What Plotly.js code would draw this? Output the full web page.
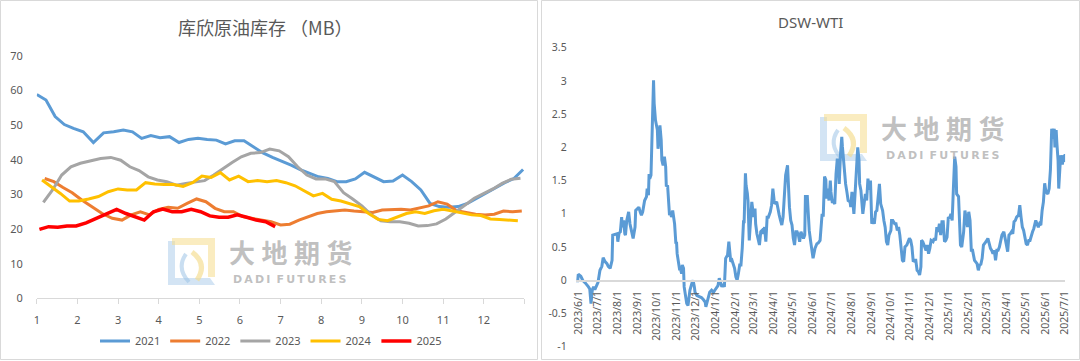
<!DOCTYPE html>
<html><head><meta charset="utf-8">
<script src="https://cdn.plot.ly/plotly-3.0.1.min.js"></script>
<style>html,body{margin:0;padding:0;background:#fff;} #chart{width:1080px;height:361px;}</style>
</head><body><div id="chart"></div>
<script>
// ---------------- DATA ----------------
// Left chart: Cushing crude stocks (MB), weekly, by year
const years = ['2021', '2022', '2023', '2024', '2025'];
const firstReport = ['2021-01-01', '2022-01-07', '2023-01-06', '2024-01-05', '2025-01-03'];
const stocks2021 = [58.9,57.3,52.5,50.2,49.1,48.1,45.0,47.8,48.1,48.6,48.1,46.2,47.0,46.4,46.7,45.0,45.9,46.2,45.9,45.7,44.6,45.5,45.5,43.8,42.0,40.7,39.7,38.5,37.2,36.1,35.1,34.6,33.7,33.7,34.5,36.4,35.1,33.7,33.9,35.6,33.7,31.3,27.4,26.5,26.3,26.5,27.4,28.9,30.5,32.0,33.4,34.6,37.2];
const stocks2022 = [34.6,33.7,32.0,30.5,28.4,26.5,24.5,23.1,22.6,24.1,25.0,24.1,25.7,26.3,26.0,27.4,28.7,27.9,26.0,25.0,25.0,23.6,23.1,22.6,22.1,21.2,21.4,22.6,23.6,24.5,25.0,25.3,25.5,25.2,25.0,24.8,25.5,25.7,25.7,25.5,26.0,26.7,27.9,27.2,25.3,24.8,24.3,24.1,24.3,25.2,25.0,25.2];
const stocks2023 = [27.7,31.3,35.6,38.0,39.0,39.7,40.4,40.7,39.9,38.0,36.9,35.1,34.2,33.7,32.7,33.2,33.5,34.0,35.6,37.5,39.2,40.9,41.9,42.1,43.1,42.6,40.9,38.0,35.6,34.5,34.5,33.7,30.5,28.7,26.7,24.1,22.4,22.1,22.1,21.7,20.9,21.0,21.5,22.9,25.0,26.9,28.9,30.3,31.6,33.2,34.4,34.7];
const stocks2024 = [34.2,32.3,30.3,28.1,28.1,28.7,29.4,30.8,31.6,31.3,31.3,33.4,33.0,32.9,32.9,32.3,33.4,35.3,34.9,36.3,34.2,35.3,33.7,34.0,33.7,34.0,33.4,32.5,31.1,29.6,30.3,28.6,28.1,27.4,26.5,24.5,22.8,22.4,23.4,24.5,25.0,24.5,25.3,25.7,25.2,24.7,24.1,23.9,22.9,22.8,22.6,22.4];
const stocks2025 = [19.9,20.7,20.5,20.9,20.9,21.8,23.1,24.4,25.7,24.5,23.6,22.6,25.0,25.8,25.0,25.0,25.7,25.0,23.8,23.4,23.4,24.1,23.4,22.6,22.1,20.7];
const monthTicks = ['1','2','3','4','5','6','7','8','9','10','11','12'];
const stockTicks = [0,10,20,30,40,50,60,70];

// Right chart: DSW-WTI spread
const dswDates = [
'2023-05-30','2023-05-31','2023-06-04','2023-06-07','2023-06-11','2023-06-13','2023-06-16','2023-06-18','2023-06-20','2023-06-22','2023-06-24','2023-06-26','2023-06-29',
'2023-07-01','2023-07-04','2023-07-07','2023-07-09','2023-07-12','2023-07-15','2023-07-17','2023-07-20','2023-07-23','2023-07-24','2023-07-28','2023-07-31',
'2023-08-01','2023-08-03','2023-08-05','2023-08-07','2023-08-08','2023-08-10','2023-08-12','2023-08-13','2023-08-15','2023-08-18','2023-08-20','2023-08-22','2023-08-25','2023-08-28','2023-08-29',
'2023-09-01','2023-09-03','2023-09-05','2023-09-07','2023-09-09','2023-09-12','2023-09-15','2023-09-16','2023-09-18','2023-09-19','2023-09-20','2023-09-22','2023-09-24','2023-09-26','2023-09-27','2023-09-29',
'2023-10-02','2023-10-03','2023-10-05','2023-10-06','2023-10-08','2023-10-09','2023-10-11','2023-10-13','2023-10-15','2023-10-16','2023-10-18','2023-10-19','2023-10-21','2023-10-23','2023-10-24','2023-10-26','2023-10-28','2023-10-29','2023-10-31',
'2023-11-01','2023-11-02','2023-11-04','2023-11-06','2023-11-07','2023-11-09','2023-11-10','2023-11-12','2023-11-13','2023-11-15','2023-11-17','2023-11-19','2023-11-22','2023-11-25','2023-11-27','2023-11-29','2023-11-30',
'2023-12-03','2023-12-05','2023-12-08','2023-12-10','2023-12-13','2023-12-16','2023-12-17','2023-12-21','2023-12-23','2023-12-26','2023-12-29','2023-12-31',
'2024-01-03','2024-01-05','2024-01-07','2024-01-09','2024-01-11','2024-01-13','2024-01-15','2024-01-17','2024-01-20','2024-01-22','2024-01-23','2024-01-25','2024-01-27','2024-01-29','2024-01-31',
'2024-02-02','2024-02-04','2024-02-06','2024-02-08','2024-02-10','2024-02-12','2024-02-14','2024-02-15','2024-02-17','2024-02-18','2024-02-20','2024-02-21','2024-02-23','2024-02-25','2024-02-27','2024-02-28',
'2024-03-01','2024-03-03','2024-03-04','2024-03-06','2024-03-08','2024-03-10','2024-03-12','2024-03-14','2024-03-16','2024-03-18','2024-03-20','2024-03-22','2024-03-24','2024-03-27','2024-03-29','2024-03-31',
'2024-04-02','2024-04-03','2024-04-06','2024-04-08','2024-04-10','2024-04-12','2024-04-14','2024-04-16','2024-04-18','2024-04-20','2024-04-23','2024-04-24','2024-04-26','2024-04-28','2024-04-30',
'2024-05-02','2024-05-04','2024-05-06','2024-05-08','2024-05-10','2024-05-12','2024-05-14','2024-05-16','2024-05-18','2024-05-20','2024-05-21','2024-05-24','2024-05-26','2024-05-27','2024-05-29','2024-05-31',
'2024-06-02','2024-06-05','2024-06-08','2024-06-10','2024-06-13','2024-06-16','2024-06-18','2024-06-20','2024-06-22','2024-06-23','2024-06-25','2024-06-27','2024-06-29','2024-06-30',
'2024-07-02','2024-07-04','2024-07-06','2024-07-08','2024-07-10','2024-07-12','2024-07-13','2024-07-15','2024-07-17','2024-07-18','2024-07-20','2024-07-22','2024-07-23','2024-07-25','2024-07-27','2024-07-30','2024-07-31',
'2024-08-02','2024-08-05','2024-08-07','2024-08-09','2024-08-11','2024-08-13','2024-08-14','2024-08-16','2024-08-17','2024-08-19','2024-08-21','2024-08-23','2024-08-25','2024-08-27','2024-08-29','2024-08-31',
'2024-09-02','2024-09-04','2024-09-06','2024-09-08','2024-09-10','2024-09-12','2024-09-14','2024-09-16','2024-09-19','2024-09-21','2024-09-23','2024-09-25','2024-09-27','2024-09-29',
'2024-10-02','2024-10-03','2024-10-05','2024-10-08','2024-10-10','2024-10-12','2024-10-14','2024-10-16','2024-10-18','2024-10-20','2024-10-22','2024-10-24','2024-10-27','2024-10-29','2024-10-31',
'2024-11-02','2024-11-04','2024-11-06','2024-11-08','2024-11-10','2024-11-12','2024-11-14','2024-11-16','2024-11-18','2024-11-19','2024-11-21','2024-11-24','2024-11-26','2024-11-28','2024-11-30',
'2024-12-02','2024-12-04','2024-12-07','2024-12-09','2024-12-11','2024-12-13','2024-12-15','2024-12-17','2024-12-19','2024-12-21','2024-12-23','2024-12-25','2024-12-27','2024-12-29','2024-12-31',
'2025-01-02','2025-01-04','2025-01-06','2025-01-08','2025-01-10','2025-01-12','2025-01-13','2025-01-16','2025-01-18','2025-01-19','2025-01-21','2025-01-24','2025-01-26','2025-01-28','2025-01-30',
'2025-02-01','2025-02-03','2025-02-05','2025-02-07','2025-02-10','2025-02-12','2025-02-14','2025-02-16','2025-02-18','2025-02-20','2025-02-22','2025-02-24','2025-02-26','2025-02-28',
'2025-03-03','2025-03-05','2025-03-07','2025-03-09','2025-03-11','2025-03-13','2025-03-15','2025-03-17','2025-03-19','2025-03-21','2025-03-23','2025-03-25','2025-03-28','2025-03-30',
'2025-04-01','2025-04-03','2025-04-05','2025-04-07','2025-04-09','2025-04-11','2025-04-13','2025-04-15','2025-04-17','2025-04-20','2025-04-22','2025-04-24','2025-04-26','2025-04-28','2025-04-30',
'2025-05-02','2025-05-04','2025-05-06','2025-05-08','2025-05-10','2025-05-12','2025-05-14','2025-05-17','2025-05-19','2025-05-21','2025-05-23','2025-05-25','2025-05-27','2025-05-29','2025-05-31',
'2025-06-02','2025-06-05','2025-06-07','2025-06-09','2025-06-11','2025-06-13','2025-06-15','2025-06-16','2025-06-18','2025-06-19','2025-06-21','2025-06-22','2025-06-24','2025-06-25','2025-06-27','2025-06-28','2025-06-30','2025-07-01','2025-07-02'
];
const dswValues = [
-0.03,0.09,0.06,0.0,-0.04,-0.06,-0.1,-0.13,-0.35,-0.15,-0.1,-0.14,-0.06,
-0.03,0.15,0.21,0.34,0.28,0.25,0.21,0.18,0.3,0.68,0.69,0.7,
0.58,0.71,0.73,0.95,0.8,0.9,0.7,0.68,0.9,1.03,0.85,0.75,0.63,0.8,1.05,
1.08,1.1,1.03,0.98,1.03,1.2,1.26,1.38,1.28,1.6,1.53,1.58,2.3,3.01,2.66,2.41,
2.26,1.98,2.13,2.33,2.11,1.81,1.73,1.86,1.71,1.41,1.43,1.2,0.98,1.03,0.95,1.05,0.95,0.85,0.55,
0.58,0.4,0.3,0.15,0.18,0.1,0.23,0.18,-0.1,-0.2,-0.35,-0.38,-0.15,-0.05,0.0,-0.1,-0.18,
-0.23,-0.24,-0.25,-0.26,-0.29,-0.33,-0.4,-0.23,-0.18,-0.15,-0.18,-0.15,
-0.1,-0.08,0.03,-0.06,-0.1,-0.06,-0.1,0.33,0.38,0.58,0.45,0.28,0.3,0.25,0.18,
0.05,0.0,0.1,0.23,0.23,0.48,0.88,0.88,1.61,1.43,1.31,1.2,0.6,1.0,1.18,1.1,
0.95,1.08,0.85,0.7,0.58,0.53,0.73,0.75,0.7,0.8,0.58,0.95,0.95,1.03,1.13,1.38,
1.2,1.15,1.18,1.05,0.98,0.9,0.83,0.95,1.33,1.58,1.73,1.41,1.1,0.9,0.83,
0.63,0.53,0.73,0.73,0.68,0.58,0.73,0.68,0.63,0.68,1.26,1.26,0.9,0.75,0.6,0.45,
0.33,0.48,0.55,0.56,0.6,0.98,0.98,1.56,1.51,1.23,1.38,1.2,1.5,1.33,
1.18,1.18,1.15,1.6,1.83,1.66,1.45,1.9,2.16,2.01,1.73,1.58,1.45,1.33,1.2,1.18,1.1,
1.33,1.0,1.33,1.65,2.0,1.81,1.45,1.35,1.2,1.0,1.15,1.3,1.2,1.53,1.36,1.5,
0.85,0.93,0.85,1.03,1.05,1.23,1.45,1.15,1.05,0.9,0.8,0.58,0.53,0.68,
0.75,0.9,0.9,0.85,0.85,0.75,0.8,0.68,0.53,0.3,0.28,0.5,0.53,0.6,0.63,
0.6,0.5,0.28,0.3,0.3,0.15,0.13,0.08,0.2,0.6,0.58,0.5,0.45,0.53,0.4,
0.48,0.6,0.58,0.63,0.6,0.8,0.73,0.85,0.68,0.88,0.88,0.58,0.6,0.65,0.95,
0.93,1.0,0.9,1.4,1.86,1.71,1.3,1.26,0.9,0.53,0.5,0.73,1.05,0.95,0.8,
1.03,0.9,0.45,0.45,0.3,0.28,0.25,0.15,0.23,0.24,0.33,0.53,0.55,0.58,
0.63,0.55,0.48,0.45,0.4,0.45,0.3,0.45,0.45,0.5,0.6,0.68,0.73,0.65,
0.53,0.43,0.68,0.7,0.73,0.7,0.88,0.9,0.95,0.98,1.13,0.95,0.8,0.75,0.65,
0.55,0.53,0.6,0.6,0.68,0.73,0.78,0.9,0.85,0.8,0.85,0.83,1.05,1.18,1.46,
1.33,1.3,1.38,1.66,2.28,2.13,2.28,2.0,2.26,2.08,1.8,1.38,1.8,1.88,1.76,1.76,1.88,1.78,1.9
];
const dateTicks = ['2023/6/1','2023/7/1','2023/8/1','2023/9/1','2023/10/1','2023/11/1','2023/12/1','2024/1/1','2024/2/1','2024/3/1','2024/4/1','2024/5/1','2024/6/1','2024/7/1','2024/8/1','2024/9/1','2024/10/1','2024/11/1','2024/12/1','2025/1/1','2025/2/1','2025/3/1','2025/4/1','2025/5/1','2025/6/1','2025/7/1'];
const spreadTicks = ['-1','-0.5','0','0.5','1','1.5','2','2.5','3','3.5'];

// ---------------- BUILD ----------------
const W = 1080, H = 361;
const FONT = '"Noto Sans", "Noto Sans CJK SC", sans-serif';
const CJK = '"Noto Sans CJK SC", "Noto Sans", sans-serif';
const TXT = '#595959';
const px = (x) => x / W;
const py = (y) => 1 - y / H;

function monthPos(dateStr) {
  const d = new Date(dateStr + 'T00:00:00Z');
  const y = d.getUTCFullYear(), m = d.getUTCMonth();
  const dim = new Date(Date.UTC(y, m + 1, 0)).getUTCDate();
  return (m + 1) + (d.getUTCDate() - 1) / dim;
}
function weeklyX(start, n) {
  const t0 = new Date(start + 'T00:00:00Z').getTime();
  const out = [];
  for (let i = 0; i < n; i++) {
    const s = new Date(t0 + i * 7 * 86400000).toISOString().slice(0, 10);
    out.push(monthPos(s));
  }
  return out;
}

const stockSeries = [stocks2021, stocks2022, stocks2023, stocks2024, stocks2025];
const colors = ['#5B9BD5', '#ED7D31', '#A5A5A5', '#FFC000', '#FF0000'];
const widths = [3, 3, 3, 3, 3.5];

const traces = stockSeries.map((vals, k) => ({
  type: 'scatter', mode: 'lines', name: years[k],
  x: weeklyX(firstReport[k], vals.length), y: vals,
  xaxis: 'x', yaxis: 'y',
  line: {color: colors[k], width: widths[k]},
  hoverinfo: 'skip'
}));

traces.push({
  type: 'scatter', mode: 'lines', name: 'DSW-WTI', showlegend: false,
  x: dswDates, y: dswValues, xaxis: 'x2', yaxis: 'y2',
  line: {color: '#5B9BD5', width: 3}, hoverinfo: 'skip'
});

const dateVals = dateTicks.map(s => {
  const p = s.split('/');
  return p[0] + '-' + String(p[1]).padStart(2, '0') + '-' + String(p[2]).padStart(2, '0');
});

const y2dom = [py(346.7), py(47.7)];
const zeroPos = y2dom[0] + (0 - (-1)) / 4.5 * (y2dom[1] - y2dom[0]);

// watermark logo shapes
function logo(x0, y0, s) {
  const P = (x, y) => `${px(x0 + x * s)},${py(y0 + y * s)}`;
  return [
    {type: 'path', xref: 'paper', yref: 'paper', layer: 'below',
     path: `M${P(0,3)} L${P(7,3)} L${P(7,40)} L${P(42,40)} L${P(47,47)} L${P(0,47)} Z`,
     fillcolor: 'rgba(157,195,230,0.45)', line: {width: 0}},
    {type: 'path', xref: 'paper', yref: 'paper', layer: 'below',
     path: `M${P(4,0)} L${P(47,0)} L${P(47,39)} L${P(40,39)} L${P(40,7)} L${P(4,7)} Z`,
     fillcolor: 'rgba(245,220,140,0.55)', line: {width: 0}},
    {type: 'path', xref: 'paper', yref: 'paper', layer: 'below',
     path: `M${P(18,16)} Q${P(8,30)} ${P(21,44)}`,
     line: {color: 'rgba(157,195,230,0.55)', width: 4}},
    {type: 'path', xref: 'paper', yref: 'paper', layer: 'below',
     path: `M${P(24,14)} Q${P(40,26)} ${P(29,42)}`,
     line: {color: 'rgba(245,220,140,0.65)', width: 5}}
  ];
}

const shapes = [
  {type: 'rect', xref: 'paper', yref: 'paper', x0: px(0.5), x1: px(537.5), y0: py(359.5), y1: py(0.5),
   line: {color: '#D9D9D9', width: 1}, layer: 'below'},
  {type: 'rect', xref: 'paper', yref: 'paper', x0: px(541.5), x1: px(1079.5), y0: py(359.5), y1: py(0.5),
   line: {color: '#D9D9D9', width: 1}, layer: 'below'},
  ...logo(168, 238, 1),
  ...logo(820, 114, 1)
];

const wm = (x, y, text, size, family, ya) => ({
  xref: 'paper', yref: 'paper', x: px(x), y: py(y), xanchor: 'center', yanchor: ya,
  text: text, showarrow: false, borderpad: 0,
  font: {family: family, size: size, color: 'rgba(175,175,175,0.8)', weight: 700}
});
const SP = '\u2005';
const WM_CN = ['大', '地', '期', '货'].join(SP);
const WM_EN = 'D\u2009A\u2009D\u2009I\u2009 F\u2009U\u2009T\u2009U\u2009R\u2009E\u2009S';

const annotations = [
  {xref: 'paper', yref: 'paper', x: px(265), y: py(27), xanchor: 'center', yanchor: 'middle', showarrow: false,
   text: '库欣原油库存 （MB）', font: {family: CJK, size: 18, color: TXT}},
  {xref: 'paper', yref: 'paper', x: px(810), y: py(22), xanchor: 'center', yanchor: 'middle', showarrow: false,
   text: 'DSW-WTI', font: {family: FONT, size: 15, color: TXT}},
  wm(291, 271, WM_CN, 26, CJK, 'bottom'),
  wm(290, 272, WM_EN, 11, '"DejaVu Sans", sans-serif', 'top'),
  wm(943, 147, WM_CN, 26, CJK, 'bottom'),
  wm(943, 148, WM_EN, 11, '"DejaVu Sans", sans-serif', 'top')
];

const layout = {
  width: W, height: H, autosize: false,
  margin: {l: 0, r: 0, t: 0, b: 0, pad: 0},
  paper_bgcolor: '#ffffff', plot_bgcolor: 'rgba(0,0,0,0)',
  font: {family: FONT, size: 11, color: TXT},
  showlegend: true,
  legend: {orientation: 'h', x: px(271), xanchor: 'center', y: py(341), yanchor: 'middle',
           font: {family: FONT, size: 11, color: TXT}, bgcolor: 'rgba(0,0,0,0)', traceorder: 'normal'},
  xaxis: {domain: [px(36.8), px(524.4)], range: [1, 13], anchor: 'y',
          tickmode: 'array', tickvals: [1,2,3,4,5,6,7,8,9,10,11,12,13], ticktext: monthTicks.concat(['']),
          showline: true, linecolor: '#D9D9D9', linewidth: 1, ticks: 'outside', ticklen: 5, tickcolor: '#D9D9D9',
          showgrid: false, zeroline: false, tickfont: {size: 11, color: TXT}, ticklabelstandoff: 6},
  yaxis: {domain: [py(298.3), py(56)], range: [0, 70], anchor: 'x',
          tickmode: 'array', tickvals: stockTicks, ticktext: stockTicks.map(String),
          showline: false, showgrid: false, zeroline: false, ticks: '',
          tickfont: {size: 11, color: TXT}, ticklabelstandoff: 13},
  xaxis2: {domain: [px(575.7), px(1065.1)], range: ['2023-05-27', '2025-07-02'], type: 'date',
           anchor: 'free', position: zeroPos,
           tickmode: 'array', tickvals: dateVals, ticktext: dateTicks, tickangle: -90,
           showline: true, linecolor: '#D9D9D9', linewidth: 1.5, ticks: '', showgrid: false, zeroline: false,
           tickfont: {size: 10.5, color: TXT}, ticklabelstandoff: 5},
  yaxis2: {domain: y2dom, range: [-1, 3.5], anchor: 'x2',
           tickmode: 'array', tickvals: spreadTicks.map(Number), ticktext: spreadTicks,
           showline: false, showgrid: false, zeroline: false, ticks: '',
           tickfont: {size: 10.5, color: TXT}, ticklabelstandoff: 8},
  shapes: shapes,
  annotations: annotations
};

Plotly.newPlot('chart', traces, layout, {staticPlot: true, displayModeBar: false});
</script></body></html>
